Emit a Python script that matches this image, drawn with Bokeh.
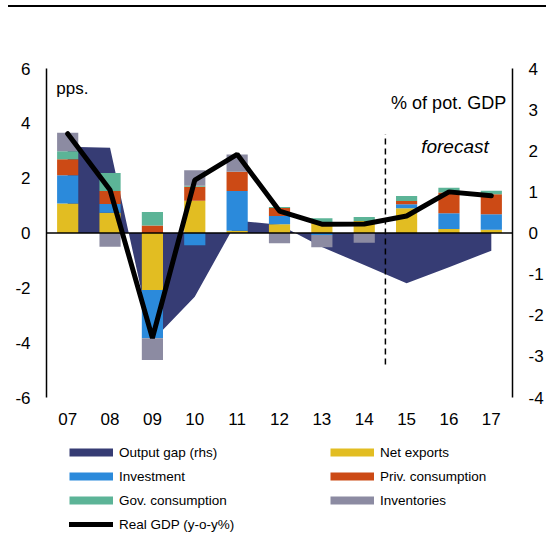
from bokeh.plotting import figure
from bokeh.models import (FactorRange, Range1d, LinearAxis, Span, Label, Legend,
                          LegendItem, FixedTicker, Div)
from bokeh.layouts import column
from bokeh.embed import file_html
from bokeh.resources import INLINE

# ---------------- data ----------------
years = ["07", "08", "09", "10", "11", "12", "13", "14", "15", "16", "17"]
net_exports      = [1.08, 0.74, -2.08, 1.18, 0.08, 0.32, 0.35, 0.44, 0.90, 0.15, 0.12]
investment       = [1.03, 0.32, -1.76, -0.45, 1.45, 0.30, -0.07, 0.00, 0.15, 0.57, 0.56]
priv_consumption = [0.58, 0.47, 0.27, 0.51, 0.70, 0.29, 0.05, 0.00, 0.12, 0.76, 0.73]
gov_consumption  = [0.29, 0.66, 0.50, 0.03, 0.00, 0.04, 0.14, 0.14, 0.18, 0.17, 0.13]
inventories      = [0.68, -0.50, -0.79, 0.57, 0.63, -0.37, -0.45, -0.36, 0.00, 0.00, 0.00]
output_gap_rhs   = [2.10, 2.07, -2.62, -1.55, 0.30, 0.20, -0.34, -0.78, -1.22, -0.83, -0.43]
real_gdp         = [3.62, 1.57, -3.83, 1.93, 2.87, 0.80, 0.32, 0.33, 0.62, 1.50, 1.36]
left_ticks = [-6, -4, -2, 0, 2, 4, 6]
right_ticks = [-4, -3, -2, -1, 0, 1, 2, 3, 4]
forecast_start = "15"

series_names = ["Net exports", "Investment", "Priv. consumption", "Gov. consumption", "Inventories"]
series_values = [net_exports, investment, priv_consumption, gov_consumption, inventories]
gap_name = "Output gap (rhs)"
gdp_name = "Real GDP (y-o-y%)"

# ---------------- styles ----------------
C_GAP = "#363C74"
C_COLORS = ["#E2BD22", "#2B8ADB", "#CC4A15", "#5CB497", "#8C8BA2"]
FONT = "Liberation Sans"

p = figure(x_range=FactorRange(factors=years, range_padding=0),
           y_range=Range1d(-6, 6),
           width=546, height=430,
           min_border_left=46, min_border_right=33, min_border_top=61, min_border_bottom=40,
           output_backend="svg", toolbar_location=None)
p.extra_y_ranges = {"rhs": Range1d(-4, 4)}
p.xgrid.visible = False
p.ygrid.visible = False
p.outline_line_color = None


def style_y(ax, ticks, standoff):
    ax.ticker = FixedTicker(ticks=ticks)
    ax.major_label_overrides = {t: str(t) for t in ticks}
    ax.major_tick_in = 0
    ax.major_tick_out = 0
    ax.minor_tick_in = 0
    ax.minor_tick_out = 0
    ax.axis_line_width = 1.5
    ax.axis_line_color = "black"
    ax.major_label_standoff = standoff
    ax.major_label_text_font_size = "17px"
    ax.major_label_text_font = FONT
    ax.major_label_text_color = "black"


style_y(p.yaxis[0], left_ticks, 16)
ra = LinearAxis(y_range_name="rhs")
style_y(ra, right_ticks, 16)
p.add_layout(ra, "right")

xa = p.xaxis[0]
xa.axis_line_color = None
xa.major_tick_in = 0
xa.major_tick_out = 0
xa.major_label_standoff = 15
xa.major_label_text_font_size = "17px"
xa.major_label_text_font = FONT
xa.major_label_text_color = "black"

# output gap area (rhs)
p.varea(x=years, y1=[0] * len(years), y2=output_gap_rhs, y_range_name="rhs", fill_color=C_GAP)

# stacked bars
pos_base = [0.0] * len(years)
neg_base = [0.0] * len(years)
for vals, col in zip(series_values, C_COLORS):
    bottoms, tops = [], []
    for i, v in enumerate(vals):
        if v >= 0:
            bottoms.append(pos_base[i]); tops.append(pos_base[i] + v); pos_base[i] += v
        else:
            bottoms.append(neg_base[i]); tops.append(neg_base[i] + v); neg_base[i] += v
    p.vbar(x=years, width=0.5, bottom=bottoms, top=tops, fill_color=col, line_color=None)

p.add_layout(Span(location=0, dimension="width", line_color="black", line_width=1.5))

# forecast divider (between the last actual and the first forecast year)
fx = float(years.index(forecast_start))
p.segment(x0=[fx], x1=[fx], y0=[-4.8], y1=[3.6], line_color="black", line_width=1.5,
          line_dash="6 4")

p.line(x=years, y=real_gdp, line_color="black", line_width=5, line_cap="round")

# texts
p.add_layout(Label(x=0.23, y=5.28, text="pps.", text_font=FONT, text_font_size="17px",
                   text_baseline="alphabetic", text_color="black"))
p.add_layout(Label(x=10.85, y=4.73, text="% of pot. GDP", text_font=FONT, text_font_size="18px",
                   text_align="right", text_baseline="middle", text_color="black"))
p.add_layout(Label(x=10.44, y=3.17, text="forecast", text_font=FONT, text_font_size="19px",
                   text_font_style="italic", text_align="right", text_baseline="middle",
                   text_color="black"))

# ---------------- legend (separate strip below the chart) ----------------
lg = figure(width=546, height=97, x_range=Range1d(0, 1), y_range=Range1d(0, 1),
            x_axis_location=None, y_axis_location=None,
            min_border_left=46, min_border_right=33, min_border_top=0, min_border_bottom=0,
            output_backend="svg", toolbar_location=None)
lg.grid.visible = False
lg.outline_line_color = None

nan = float("nan")
sw_gap = lg.line(x=[nan], y=[nan], line_color=C_GAP, line_width=8)
sw = [lg.line(x=[nan], y=[nan], line_color=c, line_width=8) for c in C_COLORS]
sw_gdp = lg.line(x=[nan], y=[nan], line_color="black", line_width=5, line_cap="round")
all_items = [(gap_name, sw_gap)] + list(zip(series_names, sw)) + [(gdp_name, sw_gdp)]
left_items = [LegendItem(label=l, renderers=[r]) for l, r in all_items[0::2]]
right_items = [LegendItem(label=l, renderers=[r]) for l, r in all_items[1::2]]


def make_legend(items, loc):
    return Legend(items=items, location=loc,
                  glyph_width=44, glyph_height=16, label_height=16,
                  label_standoff=6, spacing=8, padding=0, margin=0,
                  border_line_color=None, background_fill_alpha=0,
                  label_text_font=FONT, label_text_font_size="13.5px", label_text_color="black")


lg.add_layout(make_legend(left_items, (23, 2)))
lg.add_layout(make_legend(right_items, (284, 26)))

top_line = Div(text="", width=538, height=7, margin=(0, 0, 0, 8),
               styles={"border-bottom": "2px solid black", "box-sizing": "border-box"})
open("out.html", "w").write(file_html(column(top_line, p, lg), INLINE))
